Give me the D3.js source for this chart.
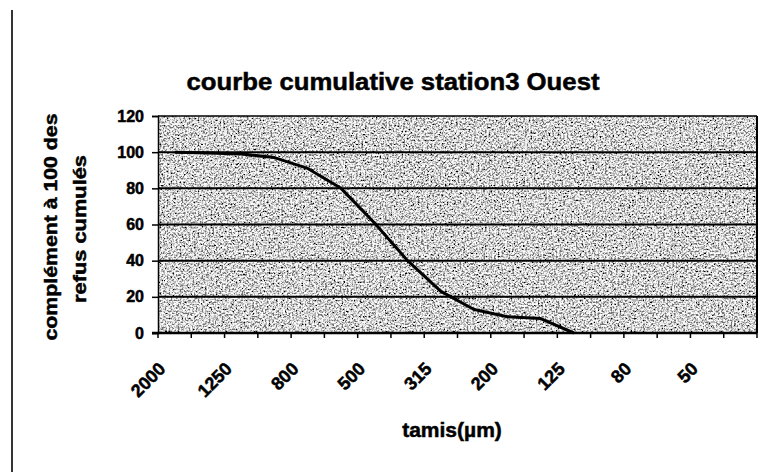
<!DOCTYPE html>
<html>
<head>
<meta charset="utf-8">
<script src="https://cdn.jsdelivr.net/npm/d3@7"></script>
<style>
  html, body { margin: 0; padding: 0; background: #fff; }
  svg { display: block; }
  text { font-family: "Liberation Sans", Arial, sans-serif; font-weight: bold; fill: #000; stroke: #000; stroke-width: 0.5px; }
</style>
</head>
<body>
<svg id="chart" width="761" height="472"></svg>
<script>
// ---- data ----
const categories = ["2000","1600","1250","1000","800","630","500","400","315","250","200","160","125","100","80","63","50","40"];
const tickLabels = ["2000","1250","800","500","315","200","125","80","50"];
const values = [100, 99.5, 99, 97, 91, 80, 61, 40, 23, 13, 9, 8, 0];
const yTicks = [0, 20, 40, 60, 80, 100, 120];
const titleText = "courbe cumulative station3 Ouest";
const yTitleLines = ["complément à 100 des", "refus cumulés"];
const xTitleText = "tamis(µm)";

// ---- layout ----
const W = 761, H = 472;
const plot = { left: 158, right: 757, top: 116, bottom: 333 };

const svg = d3.select("#chart");

// grain texture filter (scanned halftone look)
const defs = svg.append("defs");
const f = defs.append("filter").attr("id", "grain")
  .attr("x", 0).attr("y", 0).attr("width", 1).attr("height", 1)
  .attr("color-interpolation-filters", "sRGB");
f.append("feTurbulence").attr("type", "fractalNoise")
  .attr("baseFrequency", 0.55).attr("numOctaves", 2).attr("seed", 11).attr("result", "n");
f.append("feColorMatrix").attr("type", "matrix")
  .attr("values", "1 0 0 0 0  1 0 0 0 0  1 0 0 0 0  0 0 0 0 1").attr("result", "g");
const ct = f.append("feComponentTransfer");
["feFuncR","feFuncG","feFuncB"].forEach(k =>
  ct.append(k).attr("type", "discrete").attr("tableValues", "0 0 0.45 0.72 0.92 1 1 1"));

const x = d3.scaleBand().domain(categories).range([plot.left, plot.right]).padding(0);
const y = d3.scaleLinear().domain([0, 120]).range([plot.bottom, plot.top]);

// left page border line
svg.append("line").attr("x1", 12).attr("x2", 12).attr("y1", 10).attr("y2", H)
  .attr("stroke", "#000").attr("stroke-width", 1.6);

// plot background with grain
svg.append("rect")
  .attr("x", plot.left).attr("y", plot.top)
  .attr("width", plot.right - plot.left).attr("height", plot.bottom - plot.top)
  .attr("fill", "#999").attr("filter", "url(#grain)");

// gridlines
svg.append("g").selectAll("line").data(yTicks.filter(d => d > 0)).join("line")
  .attr("x1", plot.left).attr("x2", plot.right)
  .attr("y1", d => y(d)).attr("y2", d => y(d))
  .attr("stroke", "#000").attr("stroke-width", d => d === 120 ? 1.5 : 2);

// right border
svg.append("line").attr("x1", plot.right).attr("x2", plot.right)
  .attr("y1", plot.top).attr("y2", plot.bottom)
  .attr("stroke", "#000").attr("stroke-width", 2);

// y axis
const yAxis = d3.axisLeft(y).tickValues(yTicks).tickSize(6).tickPadding(8);
const gy = svg.append("g").attr("transform", `translate(${plot.left},0)`).call(yAxis);
gy.select(".domain").attr("stroke", "#000").attr("stroke-width", 1.5);
gy.selectAll(".tick line").attr("stroke", "#000").attr("stroke-width", 1.5);
gy.selectAll(".tick text").style("font-size", "16px").style("font-family", "Liberation Sans, Arial, sans-serif")
  .style("font-weight", "bold").attr("fill", "#000");

// x axis: ticks between categories
const boundaries = categories.map(c => x(c)).concat([plot.right]);
const gx = svg.append("g");
gx.append("line").attr("x1", plot.left - 6).attr("x2", plot.right)
  .attr("y1", plot.bottom).attr("y2", plot.bottom)
  .attr("stroke", "#000").attr("stroke-width", 2.5);
gx.selectAll("line.tk").data(boundaries).join("line").attr("class", "tk")
  .attr("x1", d => d).attr("x2", d => d)
  .attr("y1", plot.bottom).attr("y2", plot.bottom + 5)
  .attr("stroke", "#000").attr("stroke-width", 1.5);
gx.selectAll("text").data(tickLabels).join("text")
  .attr("text-anchor", "end")
  .attr("transform", d => `translate(${x(d) + x.bandwidth() / 2 - 8},${plot.bottom + 37}) rotate(-45)`)
  .style("font-size", "18px")
  .text(d => d);

// data line
const pts = values.map((v, i) => [x(categories[i]) + x.bandwidth() / 2, y(v)]);
svg.append("path").attr("d", d3.line().curve(d3.curveLinear)(pts))
  .attr("fill", "none").attr("stroke", "#000").attr("stroke-width", 3)
  .attr("stroke-linejoin", "round");

// title
svg.append("text").attr("x", 393).attr("y", 90).attr("text-anchor", "middle")
  .style("font-size", "24px").attr("textLength", 413).attr("lengthAdjust", "spacingAndGlyphs")
  .text(titleText);

// y title
svg.append("text").attr("text-anchor", "middle")
  .attr("transform", "translate(57,227) rotate(-90)")
  .style("font-size", "19px").attr("textLength", 227).attr("lengthAdjust", "spacingAndGlyphs")
  .text(yTitleLines[0]);
svg.append("text").attr("text-anchor", "middle")
  .attr("transform", "translate(86,229) rotate(-90)")
  .style("font-size", "19px").attr("textLength", 148).attr("lengthAdjust", "spacingAndGlyphs")
  .text(yTitleLines[1]);

// x title
svg.append("text").attr("x", 452).attr("y", 437).attr("text-anchor", "middle")
  .style("font-size", "21px")
  .text(xTitleText);
</script>
</body>
</html>
